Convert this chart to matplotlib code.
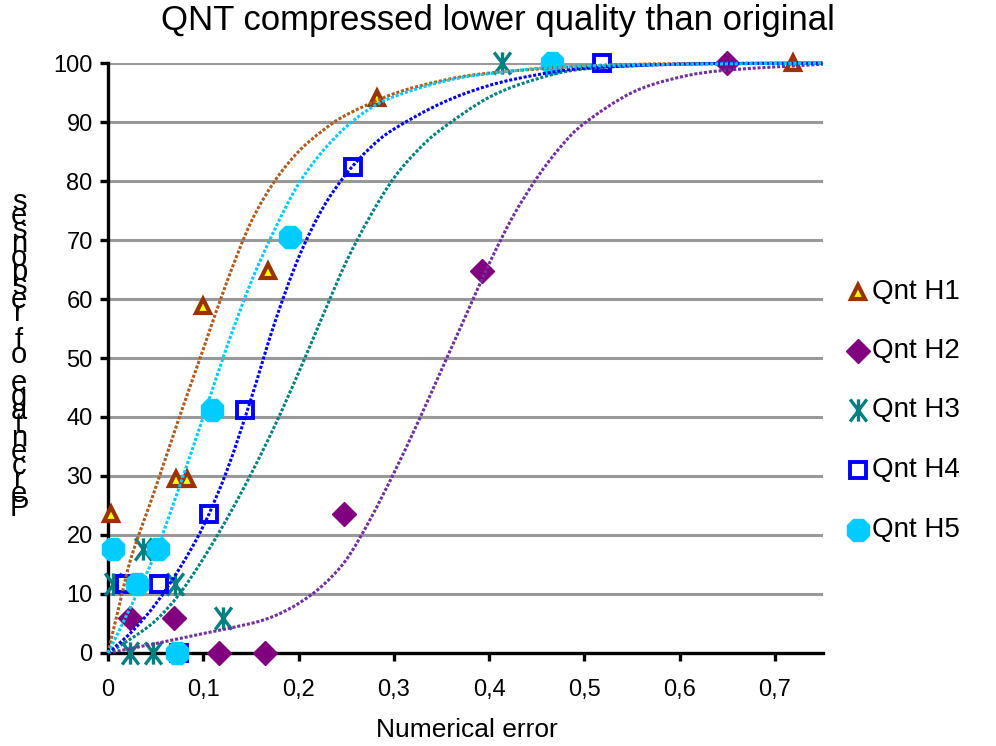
import matplotlib
matplotlib.use("Agg")
import matplotlib.pyplot as plt
from matplotlib.path import Path
from matplotlib.patches import PathPatch
from matplotlib.lines import Line2D

plt.rcParams['font.family'] = ['Liberation Sans', 'DejaVu Sans']

# measured points (17 respondents, so values are k/17 in percent)
h1_x = [0.003, 0.071, 0.083, 0.100, 0.168, 0.282, 0.719]
h1_y = [23.53, 29.41, 29.41, 58.82, 64.71, 94.12, 100]
h2_x = [0.023, 0.069, 0.117, 0.165, 0.248, 0.393, 0.650]
h2_y = [5.88, 5.88, 0, 0, 23.53, 64.71, 100]
h3_x = [0.005, 0.023, 0.037, 0.047, 0.070, 0.121, 0.413]
h3_y = [11.76, 0, 17.65, 0, 11.76, 5.88, 100]
h4_x = [0.018, 0.054, 0.075, 0.106, 0.144, 0.257, 0.518]
h4_y = [11.76, 11.76, 0, 23.53, 41.18, 82.35, 100]
h5_x = [0.005, 0.030, 0.052, 0.072, 0.109, 0.191, 0.466]
h5_y = [17.65, 11.76, 17.65, 0, 41.18, 70.59, 100]

# trend curves
h1_fit_x = [0, 0.0125, 0.025, 0.05, 0.075, 0.1, 0.125, 0.15, 0.175, 0.2, 0.225, 0.25, 0.3, 0.35, 0.4, 0.5, 0.6, 0.75]
h1_fit_y = [0, 8.5, 16.5, 28, 40, 51.5, 63, 73, 80, 85, 88.5, 91.2, 94.8, 97, 98.3, 99.5, 99.9, 100]
h2_fit_x = [0, 0.05, 0.1, 0.15, 0.175, 0.2, 0.225, 0.25, 0.275, 0.3, 0.325, 0.35, 0.375, 0.4, 0.425,
            0.45, 0.475, 0.5, 0.55, 0.6, 0.65, 0.75]
h2_fit_y = [0, 1.6, 3.3, 5.0, 6.3, 8.4, 11.4, 15.8, 22.6, 30.5, 39, 48, 57, 66, 74,
            80.5, 85.8, 89.8, 95, 97.6, 98.8, 99.8]
h3_fit_x = [0, 0.025, 0.05, 0.075, 0.1, 0.125, 0.15, 0.175, 0.2, 0.225, 0.25, 0.275, 0.3, 0.325,
            0.35, 0.4, 0.45, 0.5, 0.6, 0.75]
h3_fit_y = [0, 2.5, 5.5, 10, 16, 22.8, 30.3, 38.5, 47.5, 57, 66.3, 74, 80.5, 85.2,
            88.8, 94.2, 97.3, 99, 99.8, 100]
h4_fit_x = [0, 0.025, 0.05, 0.075, 0.1, 0.125, 0.15, 0.175, 0.2, 0.225, 0.25, 0.275, 0.3,
            0.35, 0.4, 0.45, 0.5, 0.6, 0.75]
h4_fit_y = [0, 3.6, 8.3, 14.3, 21.5, 31, 43, 56, 67, 75.3, 81.2, 85.6, 88.8,
            93.2, 96.2, 98, 99.1, 99.8, 100]
h5_fit_x = [0, 0.025, 0.05, 0.075, 0.1, 0.125, 0.15, 0.175, 0.2, 0.225, 0.25, 0.275, 0.3,
            0.35, 0.4, 0.5, 0.75]
h5_fit_y = [0, 8.2, 17, 28.2, 40, 52, 62.8, 71.8, 79.5, 85, 89.2, 92.3, 94.3,
            96.8, 98.2, 99.5, 100]

labels = ['Qnt H1', 'Qnt H2', 'Qnt H3', 'Qnt H4', 'Qnt H5']
xticks = [0, 0.1, 0.2, 0.3, 0.4, 0.5, 0.6, 0.7]
xtick_labels = ['0', '0,1', '0,2', '0,3', '0,4', '0,5', '0,6', '0,7']
yticks = [0, 10, 20, 30, 40, 50, 60, 70, 80, 90, 100]

# asterisk: vertical bar plus an X
star = Path([(0, -1), (0, 1), (-0.75, -1), (0.75, 1), (-0.75, 1), (0.75, -1)],
            [Path.MOVETO, Path.LINETO, Path.MOVETO, Path.LINETO, Path.MOVETO, Path.LINETO])

styles = [
    dict(marker='^', ms=10, mfc='#FFFF00', mec='#993300', mew=3),
    dict(marker='D', ms=12, mfc='#800080', mec='#800080', mew=1),
    dict(marker=star, ms=16, mfc='none', mec='#008080', mew=2.4),
    dict(marker='s', ms=11, mfc='white', mec='#0000FF', mew=2.8),
    dict(marker='8', ms=17, mfc='#00CCFF', mec='#00CCFF', mew=1),
]
line_colors = ['#B05A1E', '#7030A0', '#008080', '#0000FF', '#00CCFF']

pts = [(h1_x, h1_y), (h2_x, h2_y), (h3_x, h3_y), (h4_x, h4_y), (h5_x, h5_y)]
fits = [(h1_fit_x, h1_fit_y), (h2_fit_x, h2_fit_y), (h3_fit_x, h3_fit_y),
        (h4_fit_x, h4_fit_y), (h5_fit_x, h5_fit_y)]


def smooth_path(xs, ys):
    # Catmull-Rom through the read points, as bezier segments (like a smoothed line)
    p = list(zip(xs, ys))
    verts = [p[0]]
    codes = [Path.MOVETO]
    for i in range(len(p) - 1):
        p0 = p[i - 1] if i > 0 else p[i]
        p1, p2 = p[i], p[i + 1]
        p3 = p[i + 2] if i + 2 < len(p) else p[i + 1]
        c1 = (p1[0] + (p2[0] - p0[0]) / 6, p1[1] + (p2[1] - p0[1]) / 6)
        c2 = (p2[0] - (p3[0] - p1[0]) / 6, p2[1] - (p3[1] - p1[1]) / 6)
        verts += [c1, c2, p2]
        codes += [Path.CURVE4] * 3
    return Path(verts, codes)


fig = plt.figure(figsize=(9.96, 7.46), dpi=100)
ax = fig.add_axes([0.1084, 0.1247, 0.7176, 0.7908])

for (px, py), st in zip(pts, styles):
    ax.plot(px, py, linestyle='none', clip_on=False, zorder=3, **st)
for (fx, fy), c in zip(fits, line_colors):
    ax.add_patch(PathPatch(smooth_path(fx, fy), fill=False, edgecolor=c, lw=2.2,
                           linestyle=(0, (1, 0.6)), clip_on=False, zorder=4))

ax.set_xlim(0, 0.75)
ax.set_ylim(0, 100)
ax.set_xticks(xticks)
ax.set_xticklabels(xtick_labels)
ax.set_yticks(yticks)
ax.yaxis.grid(True, color='#999999', lw=2.2)
ax.set_axisbelow(True)
for s in ['top', 'right']:
    ax.spines[s].set_visible(False)
for s in ['left', 'bottom']:
    ax.spines[s].set_linewidth(2.4)
ax.tick_params(axis='both', labelsize=17, width=2.4, length=6, direction='out')
ax.tick_params(axis='x', pad=13)
ax.tick_params(axis='y', pad=5)

fig.text(0.469, 0.021, 'Numerical error', ha='center', va='center', fontsize=19)
fig.text(0.5, 0.972, 'QNT compressed lower quality than original', ha='center', va='center', fontsize=25)

# y label: upright letters stacked bottom to top, squeezed together
ylabel = 'Percentage of responses'
for i, ch in enumerate(ylabel):
    yy = 508 - i * 13.9
    fig.text(19 / 996, 1 - yy / 746, ch, ha='center', va='center', fontsize=21)

leg_y = [292, 351, 410, 470, 530]
for st, lab, yy in zip(styles, labels, leg_y):
    fy = 1 - yy / 746
    fig.add_artist(Line2D([858 / 996], [fy], transform=fig.transFigure, linestyle='none', **st))
    fig.text(872 / 996, fy, lab, ha='left', va='center', fontsize=20)

fig.savefig('out.png', dpi=100)
